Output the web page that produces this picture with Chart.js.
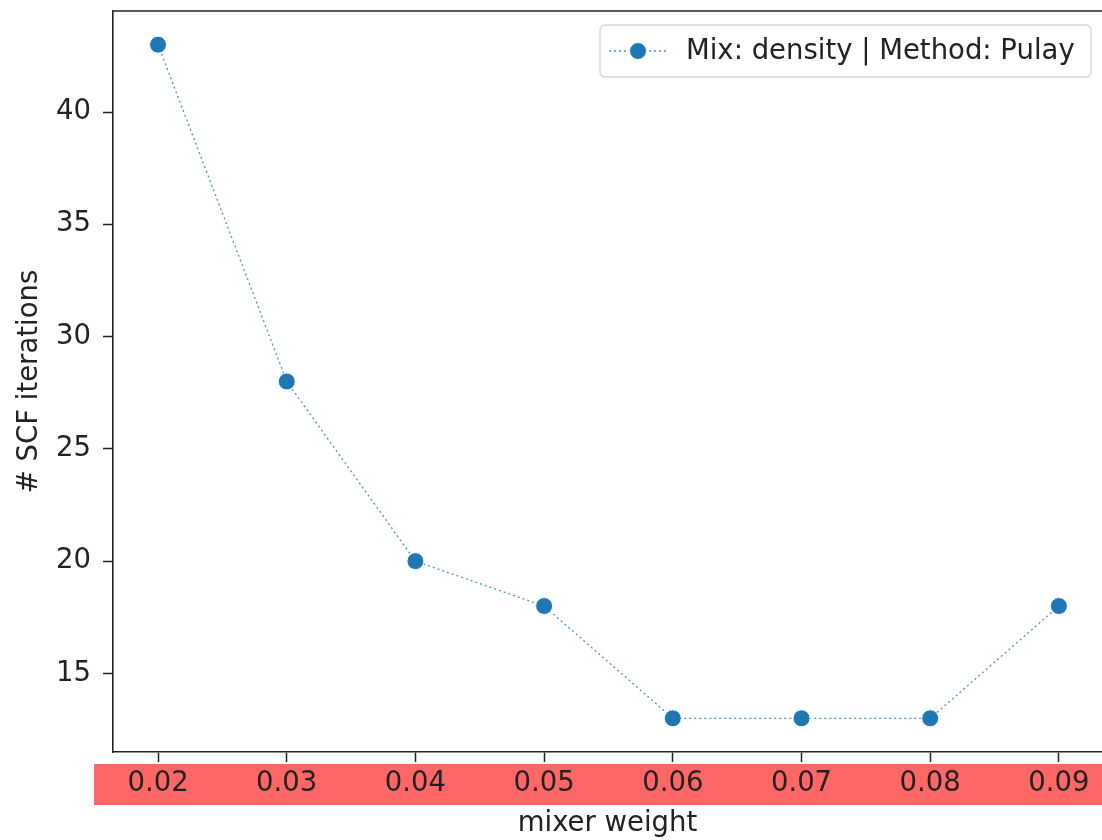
<!DOCTYPE html>
<html lang="en">
<head>
    <meta charset="UTF-8">
    <title>SCF iterations vs mixer weight</title>
    <script src="https://cdn.jsdelivr.net/npm/chart.js"></script>
    <style>
        body {
            margin: 0;
            padding: 0;
            background: #ffffff;
            overflow: hidden;
        }
    </style>
</head>
<body>
    <canvas id="scfChart" width="1102" height="840"></canvas>

    <script>
        const mixerWeights = [0.02, 0.03, 0.04, 0.05, 0.06, 0.07, 0.08, 0.09];
        const scfIterations = [43, 28, 20, 18, 13, 13, 13, 18];
        const xTickValues = [0.02, 0.03, 0.04, 0.05, 0.06, 0.07, 0.08, 0.09];
        const yTickValues = [15, 20, 25, 30, 35, 40];
        const seriesLabel = "Mix: density | Method: Pulay";

        const FONT = "'DejaVu Sans', sans-serif";
        const FONT_SIZE = 27.5;
        const INK = "#222222";
        const BLUE = "#1f77b4";

        // white page, red strip behind the x tick labels, top spine, legend.
        // The original is cropped just before its right spine, so the x axis
        // ends a hair short of 0.0935 at the canvas edge and no right spine is drawn.
        const framePlugin = {
            id: "frame",
            beforeDraw(chart) {
                const ctx = chart.ctx;
                ctx.save();
                ctx.fillStyle = "#ffffff";
                ctx.fillRect(0, 0, chart.width, chart.height);
                ctx.fillStyle = "#ff6666";
                ctx.fillRect(94, 764, chart.width - 94, 41);
                ctx.restore();
            },
            afterDraw(chart) {
                const ctx = chart.ctx;
                const a = chart.chartArea;
                ctx.save();
                ctx.strokeStyle = INK;
                ctx.lineWidth = 1.6;
                ctx.beginPath();
                ctx.moveTo(a.left, a.top);
                ctx.lineTo(chart.width, a.top);
                ctx.stroke();

                // legend box
                const bx = 600, by = 25, bw = 491, bh = 52;
                ctx.beginPath();
                ctx.roundRect(bx, by, bw, bh, 5);
                ctx.fillStyle = "rgba(255,255,255,0.8)";
                ctx.fill();
                ctx.strokeStyle = "#d6d6d6";
                ctx.lineWidth = 1.3;
                ctx.stroke();

                const ly = by + bh / 2;
                ctx.beginPath();
                ctx.setLineDash([2, 3]);
                ctx.strokeStyle = "rgba(31,119,180,0.8)";
                ctx.lineWidth = 1.3;
                ctx.moveTo(609, ly);
                ctx.lineTo(666, ly);
                ctx.stroke();
                ctx.setLineDash([]);
                ctx.beginPath();
                ctx.arc(638, ly, 8.5, 0, Math.PI * 2);
                ctx.fillStyle = BLUE;
                ctx.fill();
                ctx.strokeStyle = "#ffffff";
                ctx.lineWidth = 1;
                ctx.stroke();

                ctx.fillStyle = INK;
                ctx.font = FONT_SIZE + "px " + FONT;
                ctx.textBaseline = "middle";
                ctx.textAlign = "left";
                ctx.fillText(seriesLabel, 686, ly + 1);
                ctx.restore();
            }
        };

        const points = mixerWeights.map((w, i) => ({ x: w, y: scfIterations[i] }));

        const config = {
            type: "line",
            data: {
                datasets: [
                    {
                        label: seriesLabel,
                        data: points,
                        borderColor: "rgba(31,119,180,0.8)",
                        borderWidth: 1.3,
                        borderDash: [2, 3],
                        pointRadius: 8.5,
                        pointBackgroundColor: BLUE,
                        pointBorderColor: "#ffffff",
                        pointBorderWidth: 1,
                        tension: 0,
                    },
                ],
            },
            options: {
                responsive: false,
                animation: false,
                devicePixelRatio: 1,
                layout: {
                    autoPadding: false,
                    padding: { top: 11, right: 0, left: 0, bottom: 0 },
                },
                plugins: {
                    legend: { display: false },
                    tooltip: { enabled: false },
                },
                scales: {
                    x: {
                        type: "linear",
                        min: 0.0165,
                        max: 0.09335,
                        afterBuildTicks: (axis) => {
                            axis.ticks = xTickValues.map((v) => ({ value: v }));
                        },
                        afterFit: (scale) => {
                            scale.height = 88;
                            scale.paddingLeft = 0;
                            scale.paddingRight = 0;
                        },
                        ticks: {
                            callback: (v) => Number(v).toFixed(2),
                            font: { family: FONT, size: FONT_SIZE },
                            color: INK,
                            padding: 5,
                            maxRotation: 0,
                            autoSkip: false,
                        },
                        grid: {
                            drawOnChartArea: false,
                            drawTicks: true,
                            tickLength: 10,
                            tickWidth: 1.5,
                            tickColor: INK,
                        },
                        border: { display: true, color: INK, width: 1.6 },
                        title: {
                            display: true,
                            text: "mixer weight",
                            font: { family: FONT, size: FONT_SIZE },
                            color: INK,
                            padding: { top: 0, bottom: 0 },
                        },
                    },
                    y: {
                        type: "linear",
                        min: 11.5,
                        max: 44.5,
                        afterBuildTicks: (axis) => {
                            axis.ticks = yTickValues.map((v) => ({ value: v }));
                        },
                        afterFit: (scale) => {
                            scale.width = 113;
                            scale.paddingTop = 0;
                            scale.paddingBottom = 0;
                        },
                        ticks: {
                            font: { family: FONT, size: FONT_SIZE },
                            color: INK,
                            padding: 12,
                            autoSkip: false,
                        },
                        grid: {
                            drawOnChartArea: false,
                            drawTicks: true,
                            tickLength: 10,
                            tickWidth: 1.5,
                            tickColor: INK,
                        },
                        border: { display: true, color: INK, width: 1.6 },
                        title: {
                            display: true,
                            text: "# SCF iterations",
                            font: { family: FONT, size: FONT_SIZE },
                            color: INK,
                            padding: { top: 13, bottom: 0 },
                        },
                    },
                },
            },
            plugins: [framePlugin],
        };

        const ctx = document.getElementById("scfChart").getContext("2d");
        const scfChart = new Chart(ctx, config);
    </script>
</body>
</html>
